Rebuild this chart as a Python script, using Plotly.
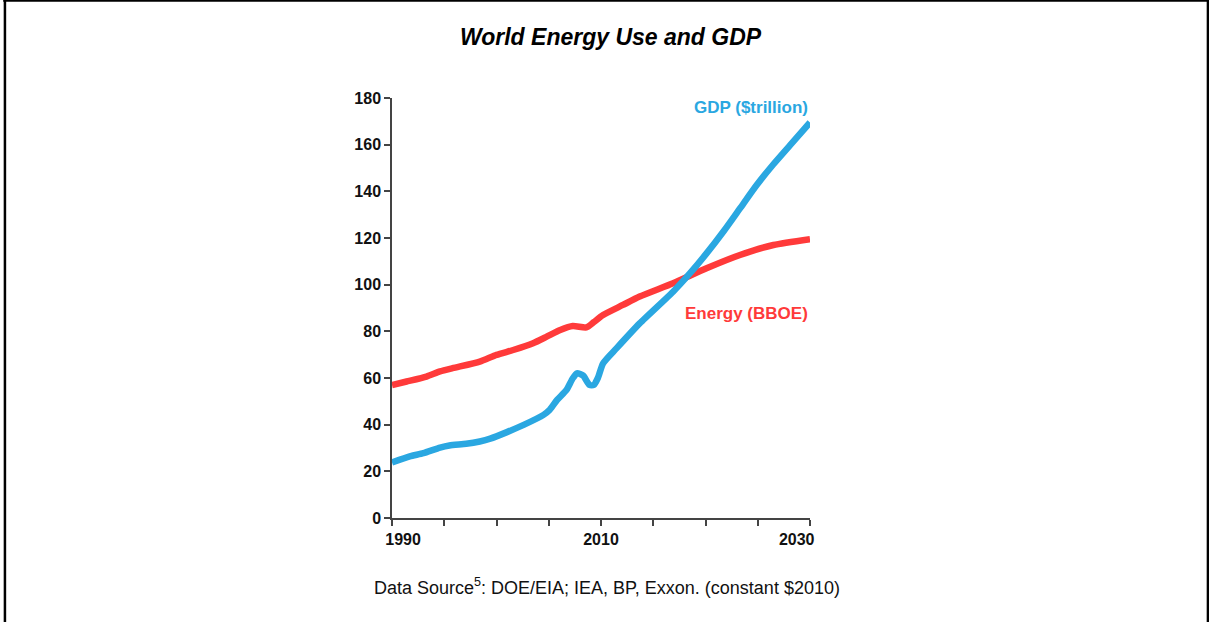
import plotly.graph_objs as go

# readings
gdp_years = [1990, 1991.7, 1993, 1994.6, 1995.5, 1997.1, 1998.4, 1999.4, 2001, 2002.6,
             2004.5, 2005.1, 2005.8, 2006.7, 2007.3, 2007.7, 2008.3, 2008.9, 2009.3,
             2009.7, 2010.2, 2011.5, 2013.7, 2016.9, 2018.5, 2020.1, 2021.7, 2023.3,
             2024.9, 2026.5, 2028.1, 2030]
gdp_vals = [23.8, 26.4, 27.8, 30.2, 31.1, 31.8, 32.8, 34, 36.8, 39.9,
            44.2, 46.4, 50.6, 54.9, 59.9, 62, 61, 57, 57,
            60, 66.3, 72.8, 83.4, 97, 104.8, 113.4, 122.7, 132.7,
            142.7, 151.6, 159.8, 169.5]

energy_years = [1990, 1991.4, 1993.3, 1994.6, 1995.8, 1998.4, 2000, 2001.6, 2003.5,
                2004.8, 2006.1, 2007.3, 2008.6, 2009.3, 2010.2, 2012.1, 2013.7, 2016.9,
                2020.1, 2023.3, 2026.5, 2030]
energy_vals = [57, 58.5, 60.6, 62.8, 64.2, 67, 69.9, 72, 74.9,
               77.7, 80.6, 82.3, 81.7, 83.9, 87, 91.3, 94.9, 100.6,
               107, 112.7, 117, 119.5]

x_labels = [1990, 2010, 2030]
y_ticks = [0, 20, 40, 60, 80, 100, 120, 140, 160, 180]

BLUE = '#2AA7E1'
RED = '#FF3A3A'
FONT = 'Liberation Sans, Arial, sans-serif'
NB = '\u00a0'

fig = go.Figure()
fig.add_trace(go.Scatter(x=energy_years, y=energy_vals, mode='lines',
                         line=dict(color=RED, width=6.5, shape='spline', smoothing=0.6),
                         showlegend=False))
fig.add_trace(go.Scatter(x=gdp_years, y=gdp_vals, mode='lines',
                         line=dict(color=BLUE, width=6.5, shape='spline', smoothing=0.6),
                         showlegend=False))

axis_common = dict(showgrid=False, zeroline=False, showline=True, linecolor='#444',
                   linewidth=1.5, ticks='outside', ticklen=6, tickcolor='#444',
                   tickwidth=1.5,
                   tickfont=dict(family=FONT, size=16, color='#111', weight='bold'))

# edge labels nudged inward like the original
fig.update_xaxes(range=[1990, 2030], tickvals=x_labels,
                 ticktext=[NB * 5 + str(x_labels[0]), str(x_labels[1]),
                           str(x_labels[2]) + NB * 6],
                 minor=dict(dtick=5, tick0=1990, ticks='outside', ticklen=6,
                            tickcolor='#444', tickwidth=1.5, showgrid=False),
                 **axis_common)
fig.update_yaxes(range=[0, 180], tickvals=y_ticks, **axis_common)

fig.update_layout(
    width=1209, height=622,
    margin=dict(l=392, r=399, t=98, b=104),
    paper_bgcolor='white', plot_bgcolor='white',
    font=dict(family=FONT),
    title=dict(text='<b><i>World Energy Use and GDP</i></b>', x=0.505, xanchor='center',
               y=0.94, yanchor='middle', font=dict(size=23, color='black')),
    annotations=[
        dict(text='<b>GDP ($trillion)</b>', x=2030, y=176, xref='x', yref='y',
             xanchor='right', yanchor='middle', showarrow=False,
             font=dict(size=17, color=BLUE)),
        dict(text='<b>Energy (BBOE)</b>', x=2030, y=87.5, xref='x', yref='y',
             xanchor='right', yanchor='middle', showarrow=False,
             font=dict(size=17, color=RED)),
        dict(text='Data Source<sup>5</sup>: DOE/EIA; IEA, BP, Exxon. (constant $2010)',
             x=0.515, y=-0.163, xref='paper', yref='paper', xanchor='center',
             yanchor='middle', showarrow=False,
             font=dict(size=18, color='#111')),
    ],
    shapes=[
        dict(type='line', xref='paper', yref='paper', x0=-0.926, x1=-0.926, y0=1.235, y1=-0.3,
             line=dict(color='black', width=2.5)),
        dict(type='line', xref='paper', yref='paper', x0=-0.93, x1=1.956, y0=1.232, y1=1.232,
             line=dict(color='black', width=2.5)),
        dict(type='line', xref='paper', yref='paper', x0=1.952, x1=1.952, y0=1.235, y1=-0.3,
             line=dict(color='black', width=2.5)),
    ],
)

# drop the page's default body margin so the figure sits at the window's corner
fig.write_html("out.html", config={'displayModeBar': False},
               post_script="document.body.style.margin='0';")
